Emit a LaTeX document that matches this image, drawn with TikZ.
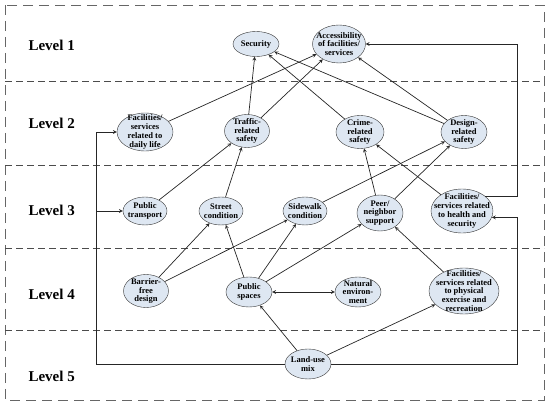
\documentclass[tikz,border=0pt]{standalone}
\usepackage{fontspec}
\setmainfont{Liberation Serif}
\usetikzlibrary{shapes,arrows,positioning,calc}

\definecolor{bluegray}{RGB}{222,231,242}

\begin{document}
\begin{tikzpicture}[x=1pt, y=-1pt,
    factor/.style={ellipse, draw=black!80, fill=bluegray, inner sep=-9pt, align=center, font=\bfseries\fontsize{8.5}{8.8}\selectfont, minimum width=46pt, minimum height=30pt},
    level/.style={anchor=west, font=\bfseries\fontsize{15}{15}\selectfont},
    divider/.style={dash pattern=on 7pt off 4pt, draw=black!70, line width=0.8pt},
    arrow/.style={->, >=stealth, draw=black!85, line width=0.7pt}
]
\useasboundingbox (0,0) rectangle (550,406);

% Frame and level dividers
\draw[divider, dash pattern=on 10pt off 6pt, draw=black!60] (5,5) rectangle (544,400);
\draw[divider] (5,81) -- (544,81);
\draw[divider] (5,165) -- (544,165);
\draw[divider] (5,248) -- (544,248);
\draw[divider] (5,330) -- (544,330);

% Level labels
\node[level] (lvl1) at (25,45) {Level 1};
\node[level] (lvl2) at (25,123) {Level 2};
\node[level] (lvl3) at (25,210) {Level 3};
\node[level] (lvl4) at (25,294) {Level 4};
\node[level] (lvl5) at (25,376) {Level 5};

% Level 1
\node[factor, minimum height=25pt] (security) at (256,44) {Security};
\node[factor, minimum width=53pt, minimum height=38pt] (access) at (339,44) {Accessibility\\of facilities/\\services};

% Level 2
\node[factor, minimum width=56pt, minimum height=38pt] (daily_fac) at (145,132) {Facilities/\\services\\related to\\daily life};
\node[factor, minimum width=45pt, minimum height=33pt] (traffic_safety) at (247,131) {Traffic-\\related\\safety};
\node[factor, minimum width=48pt, minimum height=33pt] (crime_safety) at (360,132) {Crime-\\related\\safety};
\node[factor, minimum width=46pt, minimum height=33pt] (design_safety) at (464,132) {Design-\\related\\safety};

% Level 3
\node[factor, minimum width=44pt, minimum height=28pt] (transport) at (145,211) {Public\\transport};
\node[factor, minimum width=44pt, minimum height=28pt] (street) at (221,211) {Street\\condition};
\node[factor, minimum width=44pt, minimum height=28pt] (sidewalk) at (305,211) {Sidewalk\\condition};
\node[factor, minimum width=46pt, minimum height=36pt] (peer) at (380,213) {Peer/\\neighbor\\support};
\node[factor, minimum width=62pt, minimum height=44pt] (health_fac) at (462,211) {Facilities/\\services related\\to health and\\security};

% Level 4
\node[factor, minimum width=45pt, minimum height=33pt] (barrier_free) at (146,291) {Barrier-\\free\\design};
\node[factor] (public_spaces) at (249,292) {Public\\spaces};
\node[factor] (nature) at (358,292) {Natural\\environ-\\ment};
\node[factor, minimum width=70pt, minimum height=46pt] (exercise_fac) at (464,291) {Facilities/\\services related\\to physical\\exercise and\\recreation};

% Level 5
\node[factor] (land_use) at (308,364) {Land-use\\mix};

% Turning points of the side lines
\coordinate (left_turn) at (96,364);
\coordinate (right_turn) at (517,364);
\coordinate (top_turn) at (517,44);

% Arrows into level 1
\draw[arrow] (traffic_safety) -- (security);
\draw[arrow] (crime_safety) -- (security);
\draw[arrow] (design_safety) -- (security);
\draw[arrow] (daily_fac) -- (access);
\draw[arrow] (traffic_safety) -- (access);
\draw[arrow] (design_safety) -- (access);
\draw[arrow] (health_fac.33) -| (top_turn) -- (access);

% Arrows into level 2
\draw[arrow] (transport) -- (traffic_safety);
\draw[arrow] (street) -- (traffic_safety);
\draw[arrow] (peer) -- (crime_safety);
\draw[arrow] (health_fac) -- (crime_safety);
\draw[arrow] (sidewalk) -- (design_safety);
\draw[arrow] (peer) -- (design_safety);

% Arrows into level 3
\draw[arrow] (barrier_free) -- (street);
\draw[arrow] (barrier_free) -- (sidewalk);
\draw[arrow] (public_spaces) -- (street);
\draw[arrow] (public_spaces) -- (sidewalk);
\draw[arrow] (public_spaces) -- (peer);
\draw[arrow] (exercise_fac) -- (peer);
\draw[arrow, <->] (public_spaces) -- (nature);

% Land-use mix
\draw[arrow] (land_use) -- (public_spaces);
\draw[arrow] (land_use) -- (exercise_fac);
\draw[arrow] (land_use) -- (left_turn) |- (daily_fac);
\draw[arrow] (left_turn |- transport) -- (transport);
\draw[arrow] (land_use) -- (right_turn) |- (health_fac.-12);

\end{tikzpicture}
\end{document}
